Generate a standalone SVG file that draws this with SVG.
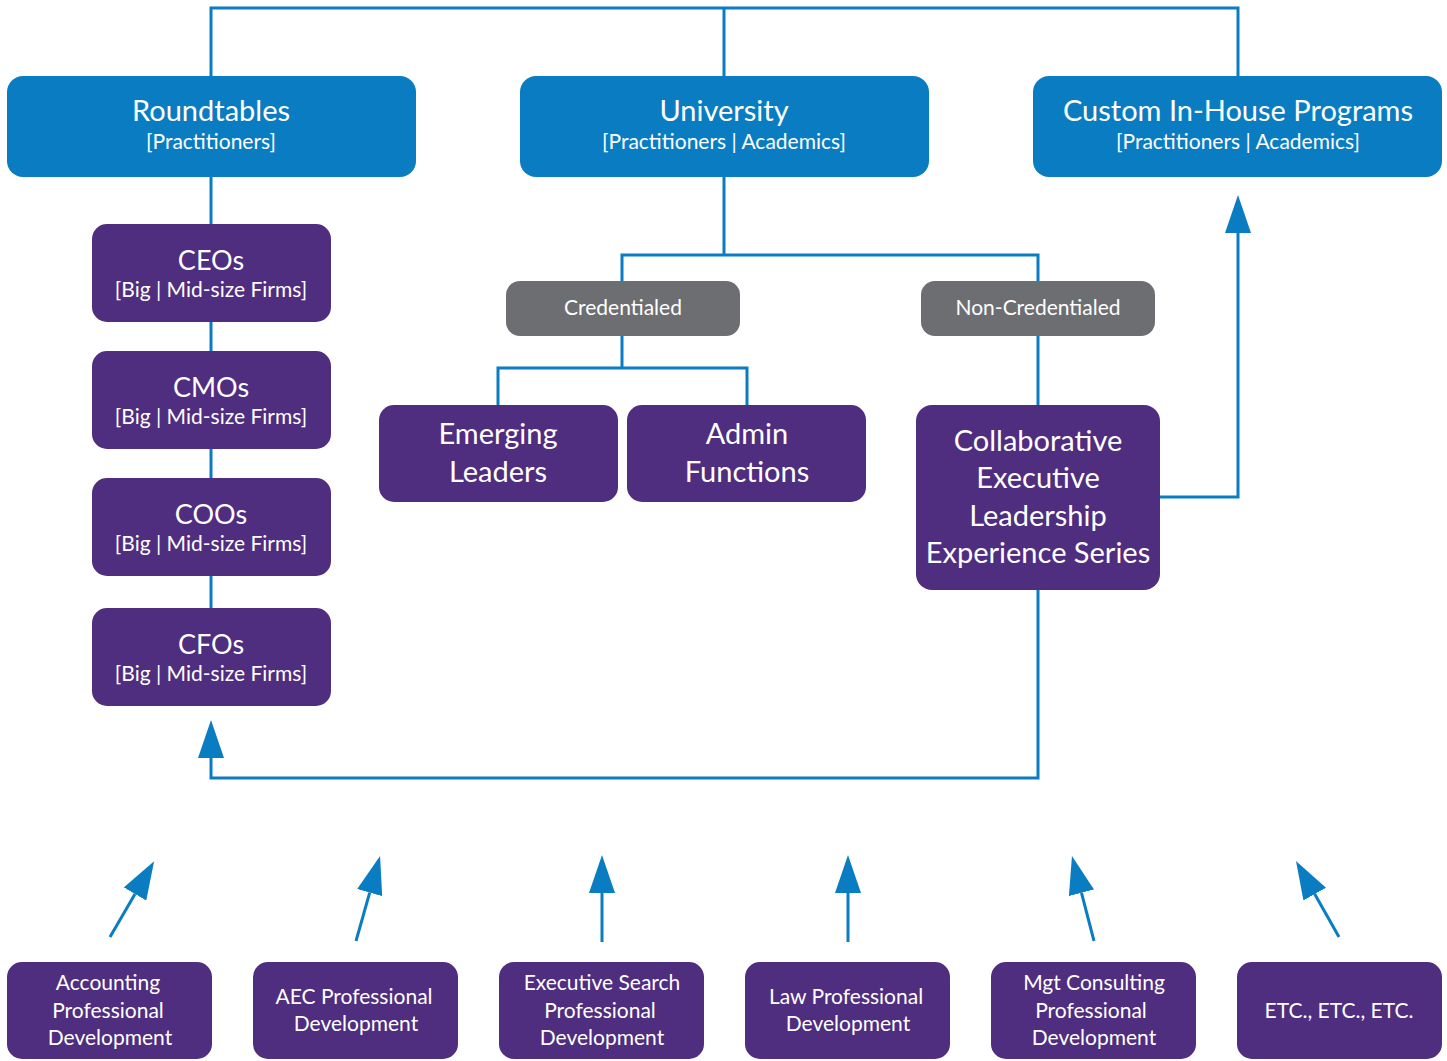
<svg xmlns="http://www.w3.org/2000/svg" width="1447" height="1061" viewBox="0 0 1447 1061">
<style>
  .blue { fill: #0a7dc2; }
  .purple { fill: #4f2d7f; }
  .gray { fill: #6d6e71; }
  text { font-family: Lato, "Open Sans", "Liberation Sans", sans-serif; fill: #ffffff; text-anchor: middle; }
  .t1 { font-size: 29px; }
  .t2 { font-size: 21px; }
  .t3 { font-size: 27px; }
  .t4 { font-size: 21px; }
  .conn { fill: none; stroke: #0a7dc2; stroke-width: 3; }
</style>
<defs>
  <marker id="ah" markerUnits="userSpaceOnUse" markerWidth="38" markerHeight="26" viewBox="0 0 38 26" refX="0" refY="13" orient="auto">
    <path d="M0,0 L38,13 L0,26 Z" fill="#0a7dc2"/>
  </marker>
</defs>
<rect width="1447" height="1061" fill="#ffffff"/>
<g id="connectors">
  <path class="conn" d="M211,76 V8 H1238 V76 M724,8 V76"/>
  <path class="conn" d="M211,177 V608"/>
  <path class="conn" d="M724,177 V255 M622,281 V255 H1038 V281"/>
  <path class="conn" d="M622,336 V368 M498,405 V368 H747 V405"/>
  <path class="conn" d="M1038,336 V405"/>
  <path class="conn" d="M1038,590 V778 H211 V758" marker-end="url(#ah)"/>
  <path class="conn" d="M1160,497 H1238 V233" marker-end="url(#ah)"/>
  <line class="conn" x1="110" y1="937" x2="135" y2="894" marker-end="url(#ah)"/>
  <line class="conn" x1="356" y1="941" x2="369.7" y2="892.6" marker-end="url(#ah)"/>
  <line class="conn" x1="602" y1="942" x2="602" y2="893" marker-end="url(#ah)"/>
  <line class="conn" x1="848" y1="942" x2="848" y2="893" marker-end="url(#ah)"/>
  <line class="conn" x1="1094" y1="941" x2="1081.5" y2="892.8" marker-end="url(#ah)"/>
  <line class="conn" x1="1339" y1="937" x2="1314.7" y2="894.1" marker-end="url(#ah)"/>
</g>
<g id="roundtables"><rect class="blue" x="7" y="76" width="409" height="101" rx="16"/><text class="t1" x="211" y="121">Roundtables</text><text class="t2" x="211" y="149">[Practitioners]</text></g>
<g id="university"><rect class="blue" x="520" y="76" width="409" height="101" rx="16"/><text class="t1" x="724" y="121">University</text><text class="t2" x="724" y="149">[Practitioners | Academics]</text></g>
<g id="custom"><rect class="blue" x="1033" y="76" width="409" height="101" rx="16"/><text class="t1" x="1238" y="121">Custom In-House Programs</text><text class="t2" x="1238" y="149">[Practitioners | Academics]</text></g>

<g id="ceos"><rect class="purple" x="92" y="224" width="239" height="98" rx="15"/><text class="t3" x="211" y="270">CEOs</text><text class="t2" x="211" y="297">[Big | Mid-size Firms]</text></g>
<g id="cmos"><rect class="purple" x="92" y="351" width="239" height="98" rx="15"/><text class="t3" x="211" y="397">CMOs</text><text class="t2" x="211" y="424">[Big | Mid-size Firms]</text></g>
<g id="coos"><rect class="purple" x="92" y="478" width="239" height="98" rx="15"/><text class="t3" x="211" y="524">COOs</text><text class="t2" x="211" y="551">[Big | Mid-size Firms]</text></g>
<g id="cfos"><rect class="purple" x="92" y="608" width="239" height="98" rx="15"/><text class="t3" x="211" y="654">CFOs</text><text class="t2" x="211" y="681">[Big | Mid-size Firms]</text></g>

<g id="credentialed"><rect class="gray" x="506" y="281" width="234" height="55" rx="14"/><text class="t4" x="623" y="315">Credentialed</text></g>
<g id="noncredentialed"><rect class="gray" x="921" y="281" width="234" height="55" rx="14"/><text class="t4" x="1038" y="315">Non-Credentialed</text></g>

<g id="emerging"><rect class="purple" x="379" y="405" width="239" height="97" rx="15"/><text class="t1" x="498" y="444">Emerging</text><text class="t1" x="498" y="482">Leaders</text></g>
<g id="admin"><rect class="purple" x="627" y="405" width="239" height="97" rx="15"/><text class="t1" x="747" y="444">Admin</text><text class="t1" x="747" y="482">Functions</text></g>
<g id="collab"><rect class="purple" x="916" y="405" width="244" height="185" rx="16"/><text class="t1" x="1038" y="451">Collaborative</text><text class="t1" x="1038" y="488">Executive</text><text class="t1" x="1038" y="526">Leadership</text><text class="t1" x="1038" y="563">Experience Series</text></g>

<g id="accounting"><rect class="purple" x="7" y="962" width="205" height="97" rx="15"/><text class="t2" x="108" y="990">Accounting</text><text class="t2" x="108" y="1018">Professional</text><text class="t2" x="110" y="1045">Development</text></g>
<g id="aec"><rect class="purple" x="253" y="962" width="205" height="97" rx="15"/><text class="t2" x="354" y="1004">AEC Professional</text><text class="t2" x="356" y="1031">Development</text></g>
<g id="execsearch"><rect class="purple" x="499" y="962" width="205" height="97" rx="15"/><text class="t2" x="602" y="990">Executive Search</text><text class="t2" x="600" y="1018">Professional</text><text class="t2" x="602" y="1045">Development</text></g>
<g id="law"><rect class="purple" x="745" y="962" width="205" height="97" rx="15"/><text class="t2" x="846" y="1004">Law Professional</text><text class="t2" x="848" y="1031">Development</text></g>
<g id="mgt"><rect class="purple" x="991" y="962" width="205" height="97" rx="15"/><text class="t2" x="1094" y="990">Mgt Consulting</text><text class="t2" x="1091" y="1018">Professional</text><text class="t2" x="1094" y="1045">Development</text></g>
<g id="etc"><rect class="purple" x="1237" y="962" width="205" height="97" rx="15"/><text class="t2" x="1339" y="1018">ETC., ETC., ETC.</text></g>
</svg>
